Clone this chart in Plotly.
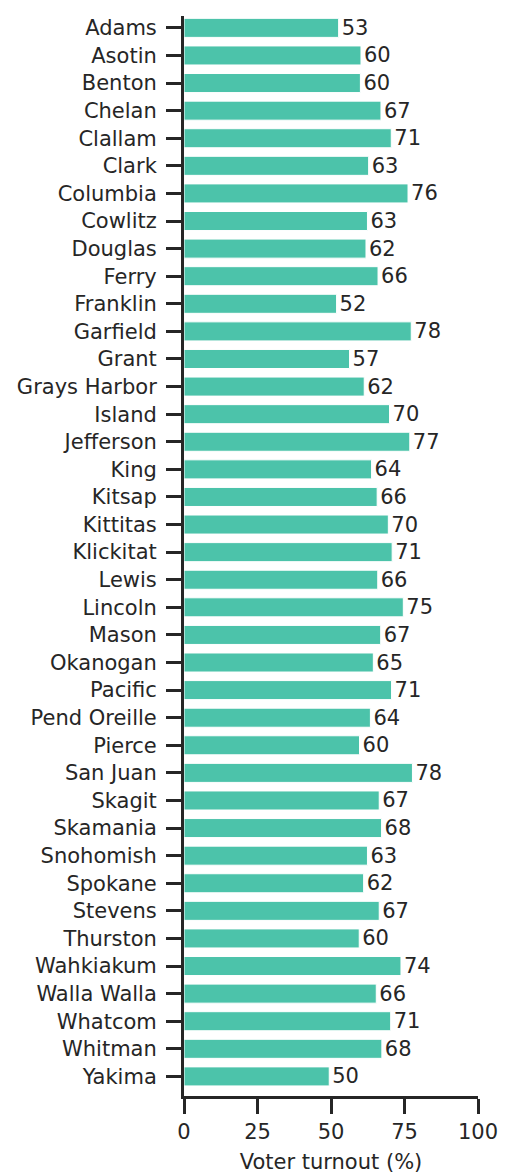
import plotly.graph_objects as go

counties = ["Adams", "Asotin", "Benton", "Chelan", "Clallam", "Clark", "Columbia",
            "Cowlitz", "Douglas", "Ferry", "Franklin", "Garfield", "Grant",
            "Grays Harbor", "Island", "Jefferson", "King", "Kitsap", "Kittitas",
            "Klickitat", "Lewis", "Lincoln", "Mason", "Okanogan", "Pacific",
            "Pend Oreille", "Pierce", "San Juan", "Skagit", "Skamania", "Snohomish",
            "Spokane", "Stevens", "Thurston", "Wahkiakum", "Walla Walla", "Whatcom",
            "Whitman", "Yakima"]

# bar lengths
turnout = [52.6, 60.2, 60.0, 67.0, 70.5, 62.8, 76.2, 62.4, 61.9, 66.0,
           51.9, 77.3, 56.3, 61.3, 69.9, 76.8, 63.8, 65.7, 69.5, 70.8,
           65.9, 74.6, 66.9, 64.4, 70.6, 63.4, 59.7, 77.7, 66.4, 67.2,
           62.4, 61.1, 66.4, 59.6, 73.8, 65.4, 70.3, 67.3, 49.4]

# printed value labels
labels = ["53", "60", "60", "67", "71", "63", "76", "63", "62", "66",
          "52", "78", "57", "62", "70", "77", "64", "66", "70", "71",
          "66", "75", "67", "65", "71", "64", "60", "78", "67", "68",
          "63", "62", "67", "60", "74", "66", "71", "68", "50"]

ink = "#262626"

fig = go.Figure(go.Bar(
    x=turnout, y=counties, orientation="h",
    marker=dict(color="#4cc3aa", line=dict(color="white", width=1)),
    text=labels, textposition="outside", constraintext="none",
    textfont=dict(size=21, color=ink, family="DejaVu Sans"),
    cliponaxis=False,
))

# the page body adds an 8px margin, so the figure is a bit smaller than the window
fig.update_layout(
    width=505, height=1166,
    margin=dict(l=176, r=35, t=8, b=78),
    plot_bgcolor="white", paper_bgcolor="white",
    font=dict(family="DejaVu Sans", size=21, color=ink),
    bargap=0.31,
    showlegend=False,
)
fig.update_xaxes(
    range=[0, 100], tickvals=[0, 25, 50, 75, 100],
    showgrid=False, zeroline=False, automargin=False,
    showline=True, linewidth=3, linecolor=ink,
    ticks="outside", ticklen=15, tickwidth=3, tickcolor=ink,
    tickfont=dict(size=21),
    title=dict(text="Voter turnout (%)", standoff=13, font=dict(size=21)),
)
fig.update_yaxes(
    range=[38.71, -0.43],
    showgrid=False, zeroline=False, automargin=False,
    showline=True, linewidth=3, linecolor=ink,
    ticks="outside", ticklen=15, tickwidth=3, tickcolor=ink,
    tickfont=dict(size=21),
    ticklabelstandoff=5,
)

fig.write_html("out.html")
